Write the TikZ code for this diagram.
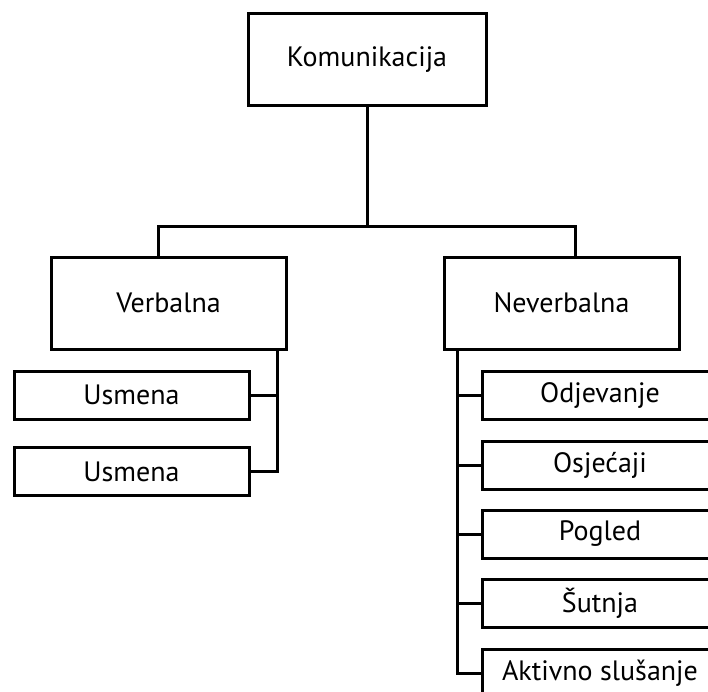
\documentclass[tikz,border=0pt]{standalone}
\usepackage{fontspec}
\setmainfont{PT Sans}
\usetikzlibrary{positioning}

\begin{document}
\begin{tikzpicture}[x=1pt,y=-1pt,line width=3pt,
  box/.style={draw,line width=3pt,inner sep=0pt,minimum width=235pt,minimum height=48pt,font=\fontsize{28}{32}\selectfont},
  bigbox/.style={box,minimum height=92pt}]
  \useasboundingbox (0,0) rectangle (708,691);
  \clip (0,0) rectangle (708,691);
  \node[bigbox,minimum width=238pt] (kom) at (367,59.5) {Komunikacija};
  \node[bigbox] (verb) at (168.5,303) {Verbalna};
  \node[bigbox] (never) at (561.5,303) {Neverbalna};
  % verbalna
  \node[box] (usm1) at (131.5,395) {Usmena};
  \node[box] (usm2) at (131.5,471.5) {Usmena};
  % neverbalna
  \node[box] (odj) at (600,395) {Odjevanje};
  \node[box] (osj) at (600,465) {Osjećaji};
  \node[box] (pog) at (600,534) {Pogled};
  \node[box] (sut) at (600,603) {Šutnja};
  \node[box] (akt) at (600,673) {Aktivno slušanje};
  \coordinate (bus) at (0,226);
  \coordinate (vs) at ([xshift=-10pt]verb.south east);
  \coordinate (ns) at ([xshift=15pt]never.south west);
  \draw (kom.south) -- (kom.south |- bus);
  \draw ([xshift=-10.5pt]verb.north) |- (kom.south |- bus) -| ([xshift=13.5pt]never.north);
  \draw (vs) |- (usm2.east);
  \draw (usm1.east) -- (usm1.east -| vs);
  \draw (ns) |- (akt.west);
  \foreach \n in {odj,osj,pog,sut}{\draw (\n.west) -- (\n.west -| ns);}
\end{tikzpicture}
\end{document}
